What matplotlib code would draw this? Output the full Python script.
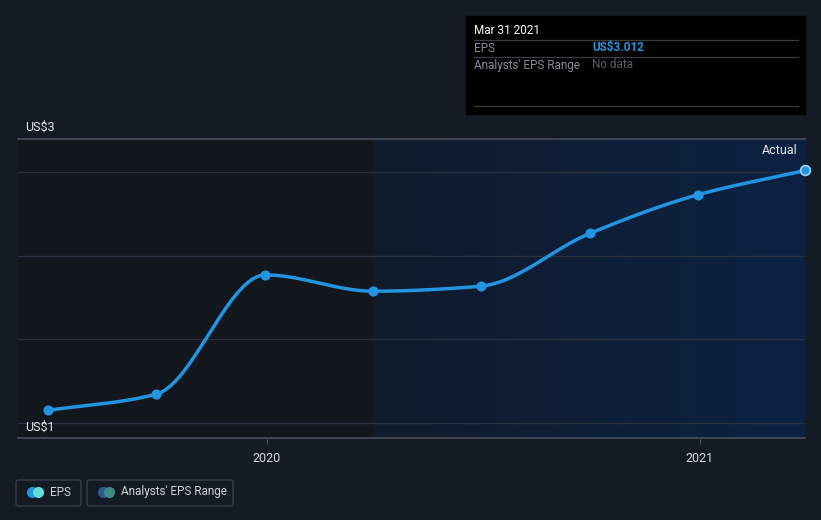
import numpy as np
import pandas as pd
import matplotlib
matplotlib.use("Agg")
import matplotlib.pyplot as plt
import matplotlib.dates as mdates
from matplotlib.patches import FancyBboxPatch, Rectangle

# EPS history (US$), quarterly
dates = pd.to_datetime(["2019-06-30", "2019-09-30", "2019-12-31", "2020-03-31",
                        "2020-06-30", "2020-09-30", "2020-12-31", "2021-03-31"])
eps = [1.10, 1.23, 2.18, 2.05, 2.09, 2.51, 2.82, 3.012]
year_ticks = pd.to_datetime(["2020-01-01", "2021-01-01"])
year_labels = ["2020", "2021"]
grid_levels = [1.0, 1.667, 2.333, 3.0]

BG = "#151b24"
LINE = "#2394e0"
W, H = 821, 520


def fx(px):
    return px / W


def fy(py):
    return 1 - py / H


def monotone(x, y, n=40):
    # Fritsch-Carlson monotone cubic, used only to draw a smooth line through the points
    x = np.asarray(x, float)
    y = np.asarray(y, float)
    h = np.diff(x)
    d = np.diff(y) / h
    m = np.zeros_like(y)
    m[0], m[-1] = d[0], d[-1]
    for i in range(1, len(y) - 1):
        if d[i - 1] * d[i] <= 0:
            m[i] = 0
        else:
            m[i] = 3 * (h[i - 1] + h[i]) / ((2 * h[i] + h[i - 1]) / d[i - 1] + (h[i] + 2 * h[i - 1]) / d[i])
    xs, ys = [], []
    for i in range(len(h)):
        t = np.linspace(0, 1, n)
        h00 = 2 * t**3 - 3 * t**2 + 1
        h10 = t**3 - 2 * t**2 + t
        h01 = -2 * t**3 + 3 * t**2
        h11 = t**3 - t**2
        xs.append(x[i] + t * h[i])
        ys.append(h00 * y[i] + h10 * h[i] * m[i] + h01 * y[i + 1] + h11 * h[i] * m[i + 1])
    return np.concatenate(xs), np.concatenate(ys)


plt.rcParams["font.family"] = ["Roboto", "DejaVu Sans"]

fig = plt.figure(figsize=(8.21, 5.2), dpi=100, facecolor=BG)
ax = fig.add_axes([fx(18), fy(438), fx(805) - fx(18), fy(139) - fy(438)])
ax.set_facecolor(BG)

x0 = mdates.date2num(pd.Timestamp("2019-06-05"))
x1 = mdates.date2num(dates[-1])
xs_split = mdates.date2num(pd.Timestamp("2020-03-31"))
ymin, ymax = 0.88, 3.263
ax.set_xlim(x0, x1)
ax.set_ylim(ymin, ymax)

# past region (darker) and current region (blue gradient)
ax.add_patch(Rectangle((x0, ymin), xs_split - x0, ymax - ymin, color="#12161d", zorder=0))
grad = np.linspace(0, 1, 256).reshape(1, -1)
cmap = matplotlib.colors.LinearSegmentedColormap.from_list("g", ["#101b2b", "#0c2243"])
ax.imshow(grad, extent=[xs_split, x1, ymin, ymax], aspect="auto", cmap=cmap, zorder=0)

for g in grid_levels:
    ax.axhline(g, color="#2a3140", lw=1, zorder=1)
ax.axhline(ymax, color="#474d59", lw=1.2, zorder=1, clip_on=False)

xn = mdates.date2num(dates)
sx, sy = monotone(xn, eps)
ax.plot(sx, sy, color=LINE, lw=2.5, zorder=3, solid_capstyle="round")
ax.scatter(xn[:-1], eps[:-1], s=40, color=LINE, zorder=4)
ax.scatter(xn[-1:], eps[-1:], s=50, facecolor=LINE, edgecolor="#9fd0f5", lw=1.2, zorder=5, clip_on=False)

for s in ["top", "right", "left"]:
    ax.spines[s].set_visible(False)
ax.spines["bottom"].set_color("#474d59")
ax.spines["bottom"].set_linewidth(1.2)
ax.set_yticks([])
ax.set_xticks(mdates.date2num(year_ticks))
ax.set_xticklabels(year_labels)
ax.tick_params(axis="x", colors="#474d59", length=4, labelcolor="#d8dadf", labelsize=9, pad=6)

ax.text(x1 - 6, 3.17, "Actual", color="#e6e8eb", fontsize=9, ha="right", va="center")
fig.text(fx(25), fy(127), "US$3", color="#e6e8eb", fontsize=9, va="center")
fig.text(fx(25), fy(427), "US$1", color="#e6e8eb", fontsize=9, va="center")

# tooltip box
fig.patches.append(Rectangle((fx(466), fy(114)), fx(805) - fx(466), fy(16) - fy(114),
                             transform=fig.transFigure, color="#000000", zorder=5))
for yy in [40, 57, 106]:
    fig.add_artist(plt.Line2D([fx(474), fx(798)], [fy(yy), fy(yy)], color="#3a3d42", lw=0.9, zorder=6))
fig.text(fx(474), fy(31), "Mar 31 2021", color="#ffffff", fontsize=8.5, va="center", zorder=7)
fig.text(fx(474), fy(48), "EPS", color="#8a8e95", fontsize=8.5, va="center", zorder=7)
fig.text(fx(592), fy(48), "US$3.012", color="#2394e0", fontsize=8.5, va="center", weight="bold", zorder=7)
fig.text(fx(474), fy(65), "Analysts' EPS Range", color="#8a8e95", fontsize=8.5, va="center", zorder=7)
fig.text(fx(592), fy(65), "No data", color="#5a5e65", fontsize=8.5, va="center", zorder=7)

# legend
for (lx, rx, label, c1, c2) in [(16, 81, "EPS", "#2394e0", "#5ee0d8"),
                                (87, 233, "Analysts' EPS Range", "#2a5d8f", "#3f8a87")]:
    fig.patches.append(FancyBboxPatch((fx(lx), fy(506)), fx(rx) - fx(lx), fy(480) - fy(506),
                                      boxstyle="round,pad=0,rounding_size=0.004",
                                      transform=fig.transFigure, facecolor="none",
                                      edgecolor="#3a3f49", lw=1))
    fig.add_artist(plt.Line2D([fx(lx + 16)], [fy(492)], marker="o", ms=7, color=c1, lw=0))
    fig.add_artist(plt.Line2D([fx(lx + 22)], [fy(492)], marker="o", ms=7, color=c2, lw=0))
    fig.text(fx(lx + 34), fy(492), label, color="#d0d3d8", fontsize=8.5, va="center")

fig.savefig("out.png", dpi=100, facecolor=BG)
